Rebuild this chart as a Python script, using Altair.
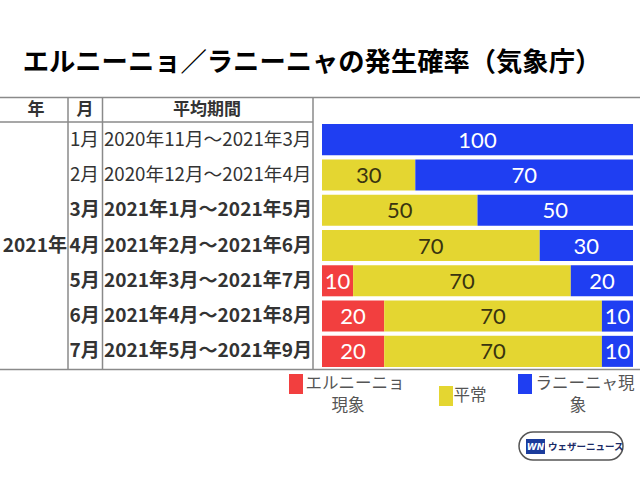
import altair as alt
import pandas as pd

# ---- data ----
months = ["1月", "2月", "3月", "4月", "5月", "6月", "7月"]
periods = [
    "2020年11月～2021年3月",
    "2020年12月～2021年4月",
    "2021年1月～2021年5月",
    "2021年2月～2021年6月",
    "2021年3月～2021年7月",
    "2021年4月～2021年8月",
    "2021年5月～2021年9月",
]
bold_rows = [False, False, True, True, True, True, True]
elnino = [0, 0, 0, 0, 10, 20, 20]
normal = [0, 30, 50, 70, 70, 70, 70]
lanina = [100, 70, 50, 30, 20, 10, 10]
categories = ["エルニーニョ現象", "平常", "ラニーニャ現象"]
colors = ["#F23F3F", "#E4D631", "#1F3EF2"]
text_colors = ["#ffffff", "#3a3410", "#ffffff"]
legend_lines = [["エルニーニョ", "現象"], ["平常"], ["ラニーニャ現", "象"]]
title_text = "エルニーニョ／ラニーニャの発生確率（気象庁）"
year_label = "2021年"
headers = ["年", "月", "平均期間"]

JP = "Noto Sans CJK JP"
NUM = "Lato"

rows = pd.DataFrame({"month": months, "period": periods, "bold": bold_rows})

long_rows = []
for i, m in enumerate(months):
    for j, vals in enumerate([elnino, normal, lanina]):
        if vals[i] > 0:
            long_rows.append({"month": m, "cat": categories[j], "order": j,
                              "value": vals[i], "tc": text_colors[j]})
bars_df = pd.DataFrame(long_rows)

yscale = alt.Scale(domain=months, range=[122, 369], paddingInner=0.12, paddingOuter=0.06)
xscale = alt.Scale(domain=[0, 100], range=[322, 633])
Y = alt.Y("month:N", scale=yscale, axis=None, sort=months)

base_bars = alt.Chart(bars_df).transform_stack(
    stack="value", groupby=["month"], as_=["x0", "x1"],
    sort=[alt.SortField("order", order="ascending")]
)

bars = base_bars.mark_bar().encode(
    x=alt.X("x0:Q", scale=xscale, axis=None),
    x2="x1:Q",
    y=Y,
    color=alt.Color("cat:N", scale=alt.Scale(domain=categories, range=colors), legend=None),
)

bar_text = base_bars.transform_calculate(mid="(datum.x0 + datum.x1) / 2").mark_text(
    font=NUM, fontSize=22, baseline="middle", align="center", dy=1
).encode(
    x=alt.X("mid:Q", scale=xscale, axis=None),
    y=Y,
    text="value:Q",
    color=alt.Color("tc:N", scale=None),
)

month_normal = alt.Chart(rows).transform_filter("!datum.bold").mark_text(
    font=JP, fontSize=18.7, align="left", baseline="middle", color="#333333"
).encode(x=alt.value(70), y=Y, text="month:N")
month_bold = alt.Chart(rows).transform_filter("datum.bold").mark_text(
    font=JP, fontSize=19.1, fontWeight="bold", align="left", baseline="middle", color="#333333"
).encode(x=alt.value(69.5), y=Y, text="month:N")
period_normal = alt.Chart(rows).transform_filter("!datum.bold").mark_text(
    font=JP, fontSize=18.7, align="left", baseline="middle", color="#333333"
).encode(x=alt.value(104), y=Y, text="period:N")
period_bold = alt.Chart(rows).transform_filter("datum.bold").mark_text(
    font=JP, fontSize=19.1, fontWeight="bold", align="left", baseline="middle", color="#333333"
).encode(x=alt.value(104), y=Y, text="period:N")

year_df = pd.DataFrame({"month": ["4月"], "t": [year_label]})
year_text = alt.Chart(year_df).mark_text(
    font=JP, fontSize=19.1, fontWeight="bold", align="right", baseline="middle", color="#333333"
).encode(x=alt.value(67), y=Y, text="t:N")

one = pd.DataFrame({"a": [0]})

def txt(t, x, y, **kw):
    return alt.Chart(one).mark_text(text=t, **kw).encode(x=alt.value(x), y=alt.value(y))

def rule(x, x2, y, y2, color="#8a8a8a", w=1.5):
    return alt.Chart(one).mark_rule(color=color, strokeWidth=w).encode(
        x=alt.value(x), x2=alt.value(x2), y=alt.value(y), y2=alt.value(y2))

def box(x, x2, y, y2, fill, stroke=None, sw=0, radius=0):
    enc = dict(x=alt.value(x), x2=alt.value(x2), y=alt.value(y), y2=alt.value(y2),
               fill=alt.value(fill))
    if stroke:
        enc["stroke"] = alt.value(stroke)
        enc["strokeWidth"] = alt.value(sw)
    return alt.Chart(one).mark_rect(cornerRadius=radius).encode(**enc)

title = txt(title_text, 312, 63, font=JP, fontSize=26.3, fontWeight="bold",
            align="center", baseline="middle", color="#000000")

hdr = [
    txt(headers[0], 36, 110, font=JP, fontSize=17, fontWeight="bold", align="center", baseline="middle", color="#333333"),
    txt(headers[1], 85, 110, font=JP, fontSize=17, fontWeight="bold", align="center", baseline="middle", color="#333333"),
    txt(headers[2], 207, 110, font=JP, fontSize=17, fontWeight="bold", align="center", baseline="middle", color="#333333"),
]

lines = [
    rule(0, 640, 97.5, 97.5),
    rule(0, 313, 122, 122),
    rule(0, 640, 369.5, 369.5),
    rule(68, 68, 97.5, 369.5),
    rule(102.5, 102.5, 97.5, 369.5),
    rule(313, 313, 97.5, 369.5),
]

LG = dict(font=JP, fontSize=16.5, align="center", baseline="middle", color="#555555")
legend = [
    box(289, 303, 374, 394, colors[0]),
    box(439, 453, 386, 406, colors[1]),
    box(518, 532, 374, 394, colors[2]),
    txt(legend_lines[0][0], 355, 383.5, **LG),
    txt(legend_lines[0][1], 348, 406, **LG),
    txt(legend_lines[1][0], 470, 396, **LG),
    txt(legend_lines[2][0], 585, 383.5, **LG),
    txt(legend_lines[2][1], 578, 406, **LG),
]

logo = [
    box(519, 623, 432, 460, "#ffffff", stroke="#555555", sw=1.5, radius=14),
    box(526, 545, 439, 454, "#1b3c9c"),
    txt("WN", 535.5, 447, font="DejaVu Sans", fontSize=9, fontWeight="bold", fontStyle="italic",
        align="center", baseline="middle", color="#ffffff"),
    txt("ウェザーニュース", 548, 446.5, font=JP, fontSize=9.5, fontWeight="bold",
        align="left", baseline="middle", color="#1a2a66"),
]

chart = alt.layer(
    *lines, bars, bar_text, month_normal, month_bold, period_normal, period_bold,
    year_text, title, *hdr, *legend, *logo
).properties(
    width=640, height=480, autosize=alt.AutoSizeParams(type="none"), padding=0,
    background="#ffffff"
).configure_view(stroke=None)

chart.save("out.html", embed_options={"renderer": "svg", "actions": False})
